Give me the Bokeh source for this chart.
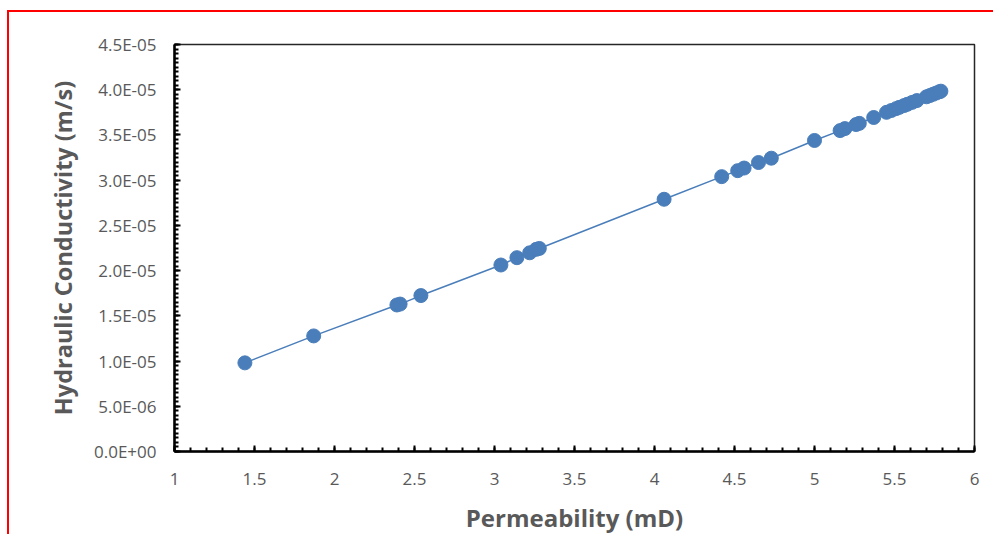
import numpy as np
from bokeh.plotting import figure
from bokeh.models import FixedTicker, CustomJSTickFormatter
from bokeh.embed import file_html
from bokeh.resources import INLINE

# Data
perm = [1.44, 1.87, 2.39, 2.41, 2.54, 3.04, 3.14, 3.22, 3.26, 3.28, 4.06,
        4.42, 4.52, 4.56, 4.65, 4.73, 5.00, 5.16, 5.19, 5.26, 5.28, 5.37,
        5.45, 5.48, 5.51, 5.53, 5.56, 5.58, 5.61, 5.64, 5.70, 5.72, 5.74,
        5.76, 5.78, 5.79]
cond = [0.980e-5, 1.278e-5, 1.620e-5, 1.630e-5, 1.724e-5, 2.062e-5, 2.143e-5,
        2.197e-5, 2.235e-5, 2.245e-5, 2.789e-5, 3.039e-5, 3.105e-5, 3.134e-5,
        3.195e-5, 3.243e-5, 3.439e-5, 3.548e-5, 3.570e-5, 3.615e-5, 3.628e-5,
        3.693e-5, 3.750e-5, 3.770e-5, 3.791e-5, 3.805e-5, 3.825e-5, 3.839e-5,
        3.860e-5, 3.880e-5, 3.922e-5, 3.935e-5, 3.949e-5, 3.963e-5, 3.977e-5,
        3.984e-5]

x_ticks = [1, 1.5, 2, 2.5, 3, 3.5, 4, 4.5, 5, 5.5, 6]
x_tick_labels = ["1", "1.5", "2", "2.5", "3", "3.5", "4", "4.5", "5", "5.5", "6"]
y_ticks = [0, 0.5e-5, 1.0e-5, 1.5e-5, 2.0e-5, 2.5e-5, 3.0e-5, 3.5e-5, 4.0e-5, 4.5e-5]
y_tick_labels = ["0.0E+00", "5.0E-06", "1.0E-05", "1.5E-05", "2.0E-05",
                 "2.5E-05", "3.0E-05", "3.5E-05", "4.0E-05", "4.5E-05"]

BLUE = "#4A7EBB"
GRAY = "#595959"
FONT = "Open Sans"

p = figure(width=986, height=524, x_range=(1, 6), y_range=(0, 4.5e-5),
           output_backend="svg", toolbar_location=None,
           min_border_left=165, min_border_right=21,
           min_border_top=32, min_border_bottom=79)
p.styles = {"border-top": "2px solid red", "border-left": "2px solid red",
            "margin-top": "10px", "margin-left": "7px"}

p.grid.visible = False
p.outline_line_color = "#262626"
p.outline_line_width = 1.5

p.line(perm, cond, line_color=BLUE, line_width=1.5)
p.scatter(perm, cond, size=14, fill_color=BLUE, line_color=BLUE)

fmt_code = """
const i = tv.findIndex(t => Math.abs(t - tick) < 1e-12);
return i >= 0 ? tl[i] : '';
"""

p.xaxis.ticker = FixedTicker(ticks=x_ticks,
                             minor_ticks=list(np.round(np.arange(1, 6.0001, 0.1), 4)))
p.xaxis.formatter = CustomJSTickFormatter(args=dict(tv=x_ticks, tl=x_tick_labels), code=fmt_code)
p.yaxis.ticker = FixedTicker(ticks=y_ticks,
                             minor_ticks=list(np.arange(0, 91) * 0.5e-6))
p.yaxis.formatter = CustomJSTickFormatter(args=dict(tv=y_ticks, tl=y_tick_labels), code=fmt_code)

for ax in (p.xaxis[0], p.yaxis[0]):
    ax.axis_line_color = "black"
    ax.axis_line_width = 2.5
    ax.major_tick_line_color = "black"
    ax.major_tick_line_width = 2
    ax.minor_tick_line_color = "black"
    ax.minor_tick_line_width = 2
    ax.major_tick_in = 6
    ax.major_tick_out = 0
    ax.minor_tick_in = 4
    ax.minor_tick_out = 0
    ax.major_label_text_font = FONT
    ax.major_label_text_font_size = "17px"
    ax.major_label_text_color = GRAY
    ax.axis_label_text_font = FONT
    ax.axis_label_text_font_style = "bold"
    ax.axis_label_text_color = GRAY

p.xaxis.axis_label = "Permeability (mD)"
p.yaxis.axis_label = "Hydraulic Conductivity (m/s)"
p.xaxis.axis_label_text_font_size = "24px"
p.yaxis.axis_label_text_font_size = "23.5px"
p.xaxis.major_label_standoff = 21
p.yaxis.major_label_standoff = 18
p.xaxis.axis_label_standoff = 13
p.yaxis.axis_label_standoff = 12

open("out.html", "w").write(file_html(p, INLINE))
